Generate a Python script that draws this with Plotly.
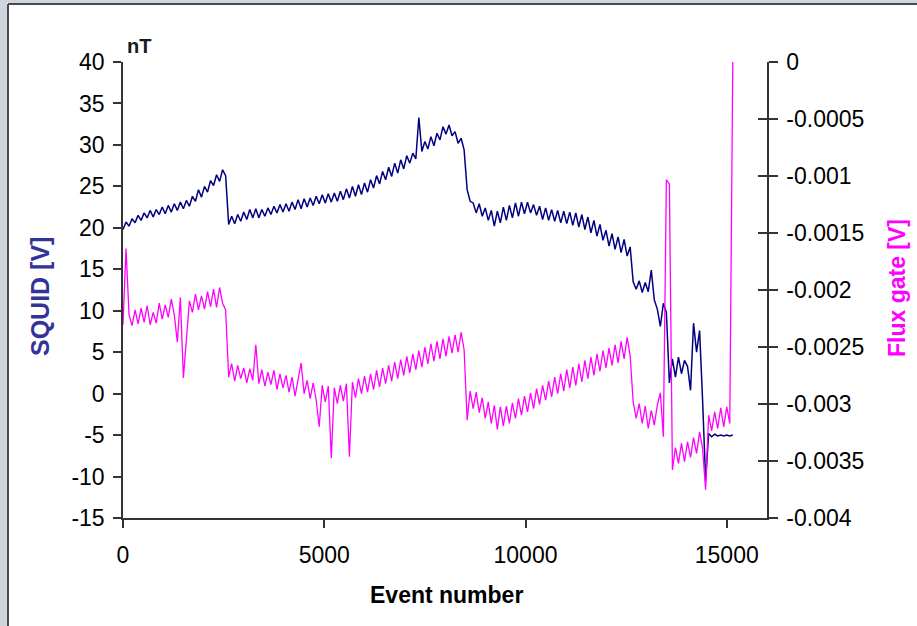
import plotly.graph_objects as go

# ---------------- data ----------------
EVENT_STEP = 75  # sampling grid of the event number axis

squid_v = [
    19.8, 20.7, 20.2, 21.1, 20.6, 21.5, 20.9, 21.8, 21.2, 22.1,
    21.3, 22.2, 21.6, 22.5, 21.7, 22.7, 21.9, 22.9, 22.1, 23.1,
    22.3, 23.3, 22.6, 23.8, 23.2, 24.6, 23.7, 25.0, 24.3, 25.7,
    25.1, 26.4, 25.6, 27.0, 26.3, 20.4, 21.4, 20.5, 21.6, 20.8,
    21.9, 21.0, 22.2, 21.2, 22.3, 21.2, 22.2, 21.4, 22.4, 21.6,
    22.6, 21.8, 22.8, 21.9, 22.9, 22.0, 23.1, 22.2, 23.4, 22.3,
    23.5, 22.5, 23.6, 22.7, 23.8, 22.9, 24.0, 23.0, 24.1, 23.1,
    24.2, 23.2, 24.4, 23.4, 24.7, 23.6, 25.0, 23.8, 25.2, 24.0,
    25.4, 24.3, 25.8, 24.8, 26.3, 25.3, 26.8, 25.8, 27.3, 26.2,
    27.8, 26.6, 28.2, 27.1, 28.7, 27.8, 29.0, 28.3, 33.3, 29.2,
    30.4, 29.5, 31.0, 29.9, 31.4, 30.6, 32.2, 31.3, 32.4, 31.1,
    31.6, 30.2, 30.8, 29.4, 24.6, 23.2, 23.0, 21.8, 22.9, 21.4,
    22.4, 20.9, 22.1, 20.2, 22.0, 20.6, 22.5, 20.9, 22.7, 21.2,
    23.0, 21.4, 23.1, 21.7, 23.1, 21.8, 22.8, 21.5, 22.6, 21.0,
    22.4, 20.9, 22.2, 20.8, 22.1, 20.6, 22.0, 20.5, 21.9, 20.3,
    21.8, 20.1, 21.6, 19.8, 21.3, 19.4, 20.9, 19.0, 20.4, 18.5,
    19.7, 17.8, 19.3, 17.4, 18.9, 17.0, 18.6, 16.6, 17.7, 13.5,
    12.6, 13.6, 12.2, 13.4, 12.3, 14.9, 11.3, 10.2, 8.1, 10.9,
    9.8, 1.3, 4.2, 2.0, 4.4, 2.4, 4.0, 3.3, 0.4, 8.5,
    5.0, 7.6, -0.8, -10.5, -4.8, -5.2, -4.9, -5.1, -5.0, -5.1,
    -5.0, -5.1, -5.0,
]

fluxgate_v = [
    -0.002305, -0.001636, -0.002218, -0.002313, -0.002175, -0.002298, -0.002160, -0.002284, -0.002138, -0.002305,
    -0.002196, -0.002291, -0.002116, -0.002255, -0.002131, -0.002240, -0.002080, -0.002218, -0.002458, -0.002065,
    -0.002771, -0.002465, -0.002095, -0.002196, -0.002036, -0.002175, -0.002051, -0.002167, -0.002015, -0.002145,
    -0.001993, -0.002153, -0.001978, -0.002116, -0.002175, -0.002764, -0.002647, -0.002800, -0.002662, -0.002778,
    -0.002684, -0.002815, -0.002691, -0.002793, -0.002480, -0.002822, -0.002698, -0.002844, -0.002720, -0.002829,
    -0.002705, -0.002873, -0.002735, -0.002858, -0.002749, -0.002895, -0.002764, -0.002931, -0.002778, -0.002640,
    -0.002909, -0.002793, -0.002953, -0.002815, -0.002967, -0.003200, -0.002836, -0.002982, -0.002844, -0.003476,
    -0.002858, -0.002996, -0.002836, -0.002975, -0.002822, -0.003462, -0.002807, -0.002945, -0.002778, -0.002909,
    -0.002756, -0.002895, -0.002735, -0.002873, -0.002705, -0.002851, -0.002684, -0.002822, -0.002662, -0.002800,
    -0.002633, -0.002778, -0.002611, -0.002749, -0.002582, -0.002727, -0.002560, -0.002698, -0.002531, -0.002676,
    -0.002502, -0.002647, -0.002473, -0.002625, -0.002451, -0.002604, -0.002429, -0.002582, -0.002407, -0.002553,
    -0.002393, -0.002545, -0.002371, -0.002524, -0.003142, -0.002887, -0.003040, -0.002895, -0.003076, -0.002945,
    -0.003127, -0.002982, -0.003171, -0.003011, -0.003222, -0.003025, -0.003193, -0.003018, -0.003171, -0.002989,
    -0.003127, -0.002953, -0.003098, -0.002931, -0.003069, -0.002902, -0.003040, -0.002865, -0.003004, -0.002836,
    -0.002967, -0.002800, -0.002938, -0.002764, -0.002909, -0.002735, -0.002887, -0.002698, -0.002858, -0.002676,
    -0.002836, -0.002647, -0.002807, -0.002618, -0.002778, -0.002589, -0.002749, -0.002560, -0.002713, -0.002531,
    -0.002684, -0.002509, -0.002662, -0.002480, -0.002640, -0.002451, -0.002604, -0.002415, -0.002575, -0.002982,
    -0.003127, -0.002996, -0.003171, -0.003018, -0.003215, -0.003055, -0.003185, -0.003011, -0.002902, -0.003287,
    -0.001033, -0.001069, -0.003578, -0.003382, -0.003520, -0.003345, -0.003505, -0.003331, -0.003469, -0.003295,
    -0.003433, -0.003244, -0.003389, -0.003753, -0.003098, -0.003236, -0.003069, -0.003215, -0.003033, -0.003200,
    -0.003025, -0.003171, 0.0,
]

x_tick_vals = [0, 5000, 10000, 15000]
x_tick_text = ["0", "5000", "10000", "15000"]
left_tick_vals = [-15, -10, -5, 0, 5, 10, 15, 20, 25, 30, 35, 40]
left_tick_text = ["-15", "-10", "-5", "0", "5", "10", "15", "20", "25", "30", "35", "40"]
right_tick_vals = [-0.004, -0.0035, -0.003, -0.0025, -0.002, -0.0015, -0.001, -0.0005, 0]
right_tick_text = ["-0.004", "-0.0035", "-0.003", "-0.0025", "-0.002", "-0.0015", "-0.001", "-0.0005", "0"]

events = list(range(0, EVENT_STEP * len(squid_v), EVENT_STEP))

# ---------------- layout geometry ----------------
W, H = 917, 626
L, R, T, B = 123, 767, 62, 518


def px(xp):
    return (xp - L) / (R - L)


def py(yp):
    return (B - yp) / (B - T)


FONT = "Liberation Sans, Arial, sans-serif"
AXC = "#333333"

fig = go.Figure()
fig.add_trace(go.Scatter(x=events, y=squid_v, mode="lines",
                         line=dict(color="#000080", width=1.5),
                         showlegend=False, hoverinfo="skip"))
fig.add_trace(go.Scatter(x=events, y=fluxgate_v, mode="lines", yaxis="y2",
                         line=dict(color="#FF00FF", width=1.3),
                         showlegend=False, hoverinfo="skip"))
fig.add_trace(go.Scatter(x=[None], y=[None], yaxis="y3", mode="lines",
                         showlegend=False, hoverinfo="skip"))

tickfont = dict(family=FONT, size=23, color="#000000")

fig.update_layout(
    width=W, height=H,
    margin=dict(l=L, r=W - R, t=T, b=H - B),
    paper_bgcolor="white", plot_bgcolor="white",
    showlegend=False,
    xaxis=dict(range=[0, 16000], tickvals=x_tick_vals, ticktext=x_tick_text,
               ticks="outside", ticklen=8, tickwidth=1.5, tickcolor=AXC,
               showline=True, linecolor=AXC, linewidth=1.5,
               showgrid=False, zeroline=False, tickfont=tickfont,
               ticklabelstandoff=8),
    yaxis=dict(range=[-15, 40], tickvals=left_tick_vals, ticktext=left_tick_text,
               ticks="outside", ticklen=8, tickwidth=1.5, tickcolor=AXC,
               showline=True, linecolor=AXC, linewidth=1.5,
               showgrid=False, zeroline=False, tickfont=tickfont,
               ticklabelstandoff=4),
    yaxis2=dict(range=[-0.004, 0], tickvals=right_tick_vals, ticktext=right_tick_text,
                overlaying="y", side="right", anchor="x",
                ticks="outside", ticklen=9, tickwidth=1.5, tickcolor=AXC,
                showline=True, linecolor=AXC, linewidth=1.5,
                showgrid=False, zeroline=False, tickfont=tickfont,
                ticklabelstandoff=4),
    yaxis3=dict(range=[-0.0040001, 0.0000001], tickvals=right_tick_vals,
                overlaying="y", side="right", anchor="x",
                ticks="inside", ticklen=9, tickwidth=1.5, tickcolor=AXC,
                showline=False, showticklabels=False,
                showgrid=False, zeroline=False),
)

# slide-like frame around the chart
fig.add_shape(type="rect", xref="paper", yref="paper",
              x0=px(0), x1=px(7), y0=py(H), y1=py(0),
              fillcolor="#cdd6de", line=dict(width=0), layer="below")
fig.add_shape(type="rect", xref="paper", yref="paper",
              x0=px(0), x1=px(W), y0=py(3), y1=py(0),
              fillcolor="#cdd6de", line=dict(width=0), layer="below")
fig.add_shape(type="line", xref="paper", yref="paper",
              x0=px(8), x1=px(8), y0=py(4), y1=py(H),
              line=dict(color="#4a4a4a", width=2))
fig.add_shape(type="line", xref="paper", yref="paper",
              x0=px(8), x1=px(W), y0=py(4), y1=py(4),
              line=dict(color="#4a4a4a", width=2))

fig.add_annotation(text="<b>nT</b>", xref="paper", yref="paper",
                   x=px(125), y=py(46), xanchor="left", yanchor="middle",
                   showarrow=False, font=dict(family=FONT, size=20, color="#1a1a1a"))
fig.add_annotation(text="<b>SQUID [V]</b>", xref="paper", yref="paper",
                   x=px(40), y=py(297), xanchor="center", yanchor="middle",
                   textangle=-90, showarrow=False,
                   font=dict(family=FONT, size=25, color="#333399"))
fig.add_annotation(text="<b>Flux gate [V]</b>", xref="paper", yref="paper",
                   x=px(897), y=py(288), xanchor="center", yanchor="middle",
                   textangle=-90, showarrow=False,
                   font=dict(family=FONT, size=23, color="#FF00FF"))
fig.add_annotation(text="<b>Event number</b>", xref="paper", yref="paper",
                   x=px(446), y=py(595), xanchor="center", yanchor="middle",
                   showarrow=False, font=dict(family=FONT, size=23, color="#000000"))

fig.write_html("out.html")
